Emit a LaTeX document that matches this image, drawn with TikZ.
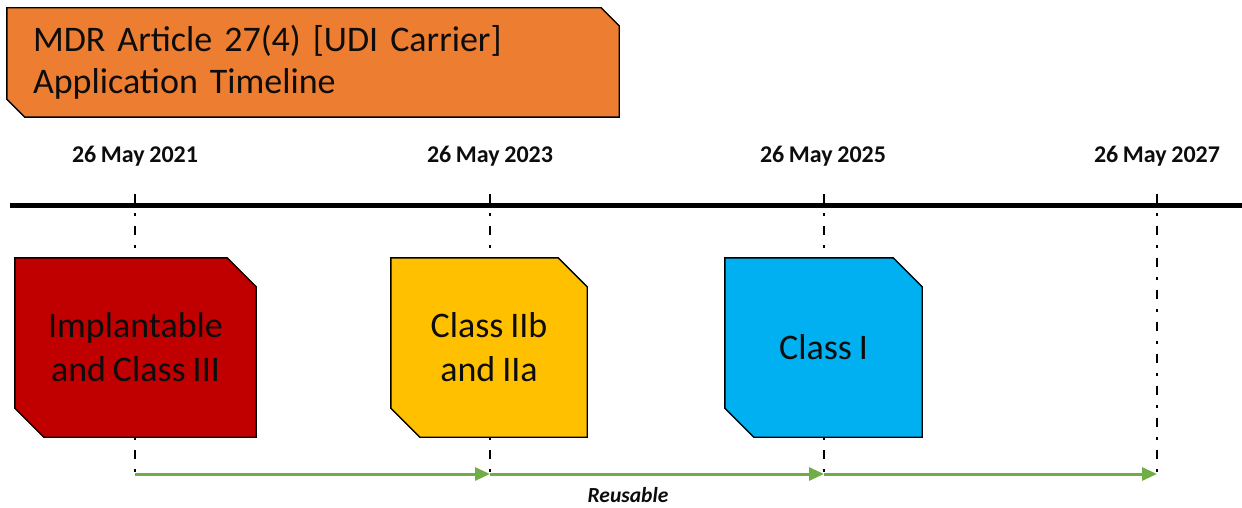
\documentclass[tikz,border=0pt]{standalone}
\usepackage{fontspec}
\setmainfont{Carlito}[WordSpace=0.85]
\usetikzlibrary{calc,backgrounds,arrows.meta}
\definecolor{ttlorange}{HTML}{ED7D31}
\definecolor{boxred}{HTML}{C00000}
\definecolor{boxyellow}{HTML}{FFC000}
\definecolor{boxblue}{HTML}{00B0F0}
\definecolor{arrgreen}{HTML}{70AD47}
\definecolor{txt}{HTML}{0D0D0D}
\newcommand\chamfbox[3]{%
  \filldraw[fill=#3,draw=black,line width=1.4pt,line join=miter]
    (#1.north west) -- ($(#1.north east)+(-#2,0)$) -- ($(#1.north east)+(0,#2)$)
    -- (#1.south east) -- ($(#1.south west)+(#2,0)$) -- ($(#1.south west)+(0,-#2)$) -- cycle;}
\tikzset{
  titlebox/.style={text width=560pt, inner xsep=26pt, inner ysep=0pt, minimum height=109pt,
    align=left, text=txt, font=\fontsize{36}{42}\selectfont},
  datelbl/.style={text=txt, font=\fontsize{24}{28}\selectfont\bfseries, inner sep=0pt},
  classbox/.style={minimum height=179pt, inner sep=0pt, align=center, text=txt,
    font=\fontsize{36}{44}\selectfont},
  dashdot/.style={line width=2.8pt, dash pattern=on 9pt off 10pt on 2.5pt off 10.5pt},
  timeline/.style={line width=5pt},
  reuse/.style={draw=arrgreen, line width=3pt, -{Triangle[length=15pt,width=13pt]}},
  reuselbl/.style={text=txt, font=\fontsize{21.5}{24}\selectfont\bfseries\itshape, inner sep=0pt}
}
\begin{document}
\begin{tikzpicture}[x=1pt,y=-1pt]
\useasboundingbox (0,0) rectangle (1242,508);
% title
\node[titlebox] (title) at (313,62.5) {MDR Article 27(4) [UDI Carrier]\\Application Timeline};
% dates
\node[datelbl] (d1) at (135,156) {26 May 2021};
\node[datelbl] (d2) at (490,156) {26 May 2023};
\node[datelbl] (d3) at (823,156) {26 May 2025};
\node[datelbl] (d4) at (1157,156) {26 May 2027};
% coordinates
\coordinate (tl) at (10,205);
\coordinate (tr) at (1242,205);
\foreach \i/\x in {1/135,2/490,3/824,4/1157}{
  \coordinate (t\i) at (\x,194);
  \coordinate (b\i) at (\x,474);
}
% boxes
\node[classbox, minimum width=241pt] (imp) at (135.5,347.5) {Implantable\\and Class III};
\node[classbox, minimum width=196pt] (cl2) at (489,347.5) {Class IIb\\and IIa};
\node[classbox, minimum width=197pt] (cl1) at (823.5,347.5) {Class I};
\node[reuselbl] (reu) at (628,495) {Reusable};
\begin{scope}[on background layer]
  \foreach \i in {1,2,3,4}{\draw[dashdot] (t\i) -- (b\i);}
  \draw[timeline] (tl) -- (tr);
  \chamfbox{title}{18}{ttlorange}
  \chamfbox{imp}{29}{boxred}
  \chamfbox{cl2}{29}{boxyellow}
  \chamfbox{cl1}{29}{boxblue}
\end{scope}
\draw[reuse] (b1) -- (b2);
\draw[reuse] (b2) -- (b3);
\draw[reuse] (b3) -- (b4);
\end{tikzpicture}
\end{document}
